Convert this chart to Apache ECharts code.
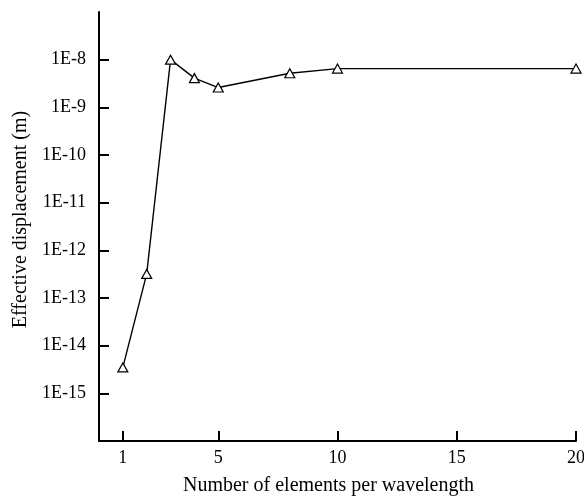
<!DOCTYPE html>
<html>
<head>
<meta charset="utf-8">
<script src="https://cdn.jsdelivr.net/npm/echarts@6/dist/echarts.min.js"></script>
<style>html,body{margin:0;padding:0;background:#fff}#c{width:584px;height:496px}</style>
</head>
<body>
<div id="c"></div>
<script>
var elements = [1, 2, 3, 4, 5, 8, 10, 20];
var displacement = [3.5e-15, 3.2e-13, 1.0e-8, 4.1e-9, 2.6e-9, 5.2e-9, 6.5e-9, 6.5e-9];
var xTicks = [1, 5, 10, 15, 20];
var yTicks = [1e-15, 1e-14, 1e-13, 1e-12, 1e-11, 1e-10, 1e-9, 1e-8];
var xName = 'Number of elements per wavelength';
var yName = 'Effective displacement (m)';

var font = '"Liberation Serif", "Times New Roman", serif';
var chart = echarts.init(document.getElementById('c'), null, {renderer: 'canvas'});
chart.setOption({
  animation: false,
  backgroundColor: '#fff',
  grid: {left: 99, right: 8, top: 12, bottom: 55, containLabel: false, outerBoundsMode: 'none'},
  xAxis: {
    type: 'value', min: 0, max: 20,
    name: xName, nameLocation: 'middle', nameGap: 35,
    nameTextStyle: {fontFamily: font, fontSize: 20, color: '#000', padding: [0, 18, 0, 0]},
    axisLine: {lineStyle: {color: '#000', width: 2}},
    axisTick: {inside: true, length: 10, lineStyle: {color: '#000', width: 2}, customValues: xTicks},
    axisLabel: {fontFamily: font, fontSize: 18, color: '#000', margin: 8, customValues: xTicks},
    splitLine: {show: false}
  },
  yAxis: {
    type: 'log', logBase: 10, min: 1e-16, max: 1e-7,
    name: yName, nameLocation: 'middle', nameGap: 67,
    nameTextStyle: {fontFamily: font, fontSize: 20, color: '#000', padding: [0, 0, 0, 14]},
    axisLine: {show: true, lineStyle: {color: '#000', width: 2}},
    axisTick: {show: true, inside: true, length: 10, lineStyle: {color: '#000', width: 2}, customValues: yTicks},
    axisLabel: {fontFamily: font, fontSize: 18, color: '#000', margin: 13, customValues: yTicks,
      formatter: function (v) { return '1E' + Math.round(Math.log10(v)); }},
    splitLine: {show: false}
  },
  series: [{
    type: 'line',
    data: elements.map(function (x, i) { return [x, displacement[i]]; }),
    symbol: 'triangle', symbolSize: [10, 9],
    itemStyle: {color: '#fff', borderColor: '#000', borderWidth: 1.2},
    lineStyle: {color: '#000', width: 1.4},
    z: 3
  }]
});
</script>
</body>
</html>
